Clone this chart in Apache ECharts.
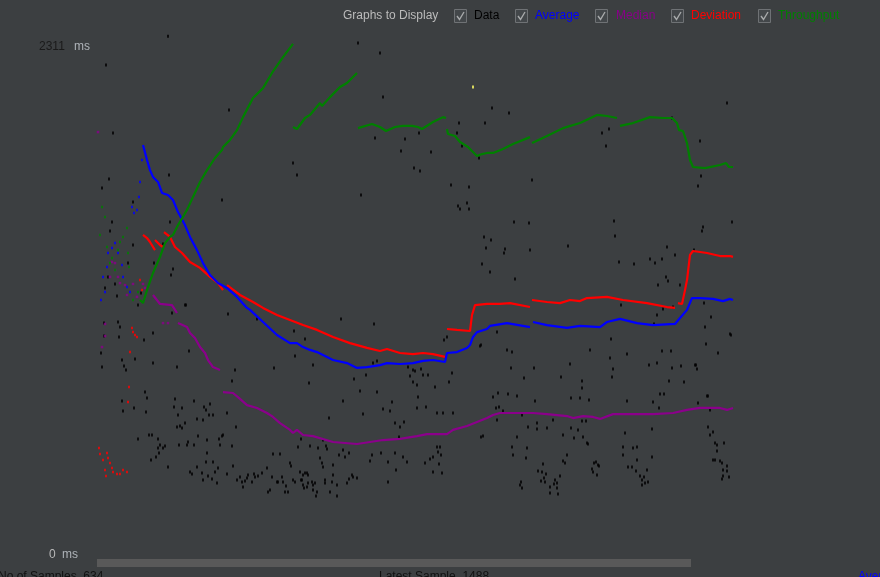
<!DOCTYPE html>
<html><head><meta charset="utf-8">
<script src="https://cdn.jsdelivr.net/npm/echarts@6/dist/echarts.min.js"></script>
<style>html,body{margin:0;padding:0;background:#3c3f41;overflow:hidden;width:880px;height:577px}#c{position:absolute;left:0;top:0;width:880px;height:577px;}</style>
</head><body><div id="c"></div><script>
// x = sample index, y = milliseconds
var yMax = 2311;
var xMax = 783;
var legendItems = ['Data', 'Average', 'Median', 'Deviation', 'Throughput'];
var bottomTexts = ['No of Samples  634', 'Latest Sample  1488', 'Average'];

var dataPoints = [
[9,2229],[16,1920],[71,2360],[132,2024],[12,1710],[5,1669],[72,1729],[36,1606],[125,1615],[15,1515],[13,1474],[36,1410],[73,1515],[66,1415],[57,1328],[76,1301],[74,1274],[31,1328],[18,1233],[8,1215],[11,1265],[20,1178],[41,1137],[44,1192],[88,1137],[196,1783],[200,1729],
[7,1055],[21,1060],[23,1037],[7,996],[22,992],[4,919],[5,855],[25,887],[27,860],[29,842],[38,892],[47,978],[56,1010],[75,1101],[89,1137],[92,928],[56,873],[80,855],[131,1096],[138,842],[135,792],[160,1074],[177,851],[197,1019],[198,905],[212,782],
[48,741],[50,714],[25,701],[37,669],[26,655],[49,651],[78,710],[77,673],[85,669],[81,637],[97,701],[100,619],[107,673],[109,660],[113,687],[112,637],[116,637],[130,646],[80,582],[83,587],[85,578],[88,600],[101,541],[106,614],[139,582],
[41,528],[52,546],[55,546],[61,528],[63,500],[66,487],[68,496],[61,487],[62,464],[59,446],[54,432],[71,400],[82,500],[90,500],[91,514],[97,500],[110,523],[110,464],[122,528],[123,500],[125,541],[126,546],[135,496],
[116,423],[121,396],[93,378],[95,368],[100,400],[105,373],[106,341],[109,423],[111,359],[115,346],[118,378],[120,328],[130,368],[136,405],[140,341],[143,355],[145,332],[146,309],[148,337],[150,350],[151,364],[155,332],[157,368],[158,355],[161,359],[165,373],[170,396],[171,287],[173,296],[175,355],[176,459],[180,332],[181,332],[183,459],[185,355],[186,332],[188,287],[189,314],[191,287],[193,419],[194,405],[196,341],[198,332],[201,491],[203,378],[204,341],[206,364],[207,305],[210,373],[211,328],
[244,1074],[277,1051],[208,983],[216,864],[232,623],[246,701],[257,801],[263,746],[266,641],[269,819],[276,873],[280,741],[280,883],[286,664],[293,655],[295,696],[298,600],[303,582],[307,605],[311,855],[313,814],[316,842],[318,837],[316,787],[320,773],[321,719],[320,669],[324,846],[326,819],[329,673],[331,819],[338,764],[340,646],[346,646],[347,978],[350,992],[352,787],[355,828],[356,646],[384,955],[396,719],[399,669],[400,614],[402,673],
[204,528],[213,496],[221,487],[226,523],[229,496],[230,482],[223,441],[225,419],[226,400],[236,409],[242,455],[246,478],[252,464],[248,446],[275,455],[273,428],[284,464],[291,423],[298,464],[302,537],[310,423],[306,446],[328,419],[333,437],[336,446],[340,491],[341,469],[342,414],[343,491],[344,455],[336,378],[345,373],[299,387],[291,332],
[208,373],[211,364],[205,341],[215,332],[218,328],[216,318],[206,318],[210,309],[216,296],[220,287],[219,268],[228,341],[228,328],[235,332],[236,364],[233,287],[240,318],[240,268],[250,328],[252,346],[255,364],[256,355],[260,350],
[261,2329],[283,2284],[286,2083],[395,2033],[362,1965],[388,1965],[278,1897],[308,1892],[322,1920],[360,1920],[365,1861],[304,1838],[334,1833],[382,1806],[317,1760],[323,1747],[354,1683],[372,1674],[264,1638],[370,1601],[361,1588],[363,1574],[372,1574],
[412,2011],[505,1920],[512,1938],[509,1861],[575,1988],[603,1883],[435,1706],[604,1724],[601,1679],[517,1519],[432,1510],[417,1515],[606,1492],[605,1474],[387,1447],[394,1433],[518,1451],[389,1397],[408,1392],[407,1374],[471,1406],[433,1387],[385,1324],[522,1333],[537,1324],[558,1328],[553,1347],[565,1347],[570,1401],[578,1365],[393,1287],[418,1256],[569,1265],[571,1246],[561,1228],[583,1228],[524,1137],[560,1092],[566,1119],[576,1128],[607,1146],[557,1051],[608,1037],[630,2056],[633,1005],[634,1001],[597,1387],[614,1083],[635,1515],
[383,951],[400,1014],[410,933],[415,923],[414,851],[427,805],[437,851],[464,810],[473,869],[474,714],[485,792],[485,760],[483,714],[493,933],[492,705],[514,983],[513,896],[516,846],[515,810],[530,914],[530,701],[552,864],[560,873],[556,696],[563,732],[567,732],[562,669],[565,928],[574,928],[575,851],[572,792],[584,860],[587,787],[599,864],[600,846],[601,691],[609,960],[611,723],[613,660],[621,919],[598,864],[610,723],
[401,737],[406,655],[411,732],[420,723],[438,701],[425,637],[431,582],[440,600],[440,573],[450,578],[456,614],[466,546],[474,578],[477,532],[481,569],[486,537],[490,509],[491,505],[489,610],[485,610],[386,541],[384,537],[420,537],[415,491],[430,487],[416,455],[429,441],[470,455],[466,428],[468,419],[446,414],
[441,382],[445,378],[449,368],[444,337],[447,350],[448,332],[463,359],[458,341],[460,328],[457,323],[460,305],[453,309],[453,282],[461,277],[424,332],[423,318],[425,305],[499,423],[497,419],[501,409],[495,391],[496,378],[500,364],[502,405],
[528,555],[526,491],[536,487],[540,491],[526,455],[540,432],[539,382],[535,400],[531,400],[543,359],[545,341],[547,355],[550,387],[551,332],[548,328],[545,318],[555,446],[555,573],
[611,582],[613,546],[616,560],[618,509],[620,500],[620,473],[616,432],[618,432],[623,428],[625,419],[630,405],[626,387],[626,359],[630,382],[632,355],[627,509],[625,346]
];
var highlightPoint = [[376,2129]];

var averageEarly = [[4,1160],[8,1196],[6,1265],[10,1310],[11,1374],[15,1397],[18,1419],[21,1374],[25,1319],[26,1265],[30,1219],[33,1196],[35,1583],[37,1556],[40,1569],[42,1629],[43,1697],[45,1797]];
var averageLine = [[
[46,1865],[50,1797],[53,1751],[56,1720],[61,1697],[65,1647],[71,1638],[76,1615],[81,1560],[88,1501],[93,1447],[100,1387],[106,1328],[113,1274],[121,1237],[130,1215],[140,1174],[150,1124],[153,1115],[166,1060],[180,1001],[193,964],[200,964],[206,946],[213,933],[220,923],[236,887],[250,873],[260,851],[270,855],[283,864],[290,873],[303,869],[316,873],[326,883],[336,887],[348,878],[350,919],[360,923],[370,942],[373,955],[376,992],[380,1014],[390,1028],[393,1042],[410,1055],[433,1037]
],[
[436,1060],[450,1046],[470,1033],[483,1042],[503,1037],[510,1060],[523,1074],[540,1055],[556,1046],[578,1051],[583,1078],[590,1115],[595,1169],[603,1169],[616,1165],[626,1155],[633,1165],[636,1160]
]];

var medianEarly = [[1,1924],[5,946],[8,996],[8,1051],[15,1333],[18,1328],[13,1265],[21,1265],[23,1237],[28,1228],[36,1233],[46,1233],[30,1183],[40,1174],[48,1215],[66,1055],[71,1055]];
var medianLine = [[
[56,1183],[63,1142],[75,1137],[80,1101]
],[
[81,1055],[90,1037],[93,1010],[98,987],[103,946],[108,919],[111,887],[116,855],[123,842]
],[
[126,741],[136,737],[143,710],[150,682],[160,669],[170,646],[176,628],[183,600],[193,569],[196,555],[200,569],[206,546],[216,541],[236,514],[260,505],[273,514],[286,523],[303,528],[320,541],[330,550],[350,550],[356,569],[370,587],[380,605],[390,623],[396,637],[403,646],[413,646],[436,646],[450,641],[470,632],[476,623],[486,632],[496,628],[503,619],[516,641],[536,641],[556,641],[576,646],[590,660],[603,669],[623,669],[630,660],[636,669]
]];

var deviationEarly = [[2,487],[3,459],[6,432],[8,387],[9,359],[10,464],[11,441],[13,419],[15,396],[16,378],[20,368],[23,368],[26,387],[30,378],[31,696],[32,764],[33,923],[35,1033],[36,1014],[38,1001],[40,992],[43,1251],[45,1205]];
var deviationLine = [[
[46,1456],[50,1442],[53,1424],[58,1387]
],[
[58,1433],[63,1410],[66,1401]
],[
[67,1469],[73,1447],[78,1401],[85,1374],[93,1333],[103,1306],[113,1265],[121,1237],[126,1205]
],[
[130,1228],[143,1183],[156,1151],[166,1124],[180,1092],[193,1069],[206,1046],[220,1024],[236,992],[253,964],[270,942],[283,928],[290,937],[303,919],[316,914],[326,919],[336,914],[348,901]
],[
[350,1028],[360,1024],[373,1019],[375,1092],[378,1137],[380,1146],[390,1142],[403,1142],[413,1146],[433,1128]
],[
[435,1160],[450,1151],[463,1146],[473,1160],[483,1155],[490,1169],[510,1174],[526,1160],[550,1146],[570,1128],[578,1124]
],[
[581,1146],[585,1142],[588,1205],[590,1251],[593,1365],[596,1383],[610,1374],[623,1360],[633,1360],[636,1356]
]];

var throughputEarly = [[5,1583],[8,1538],[3,1456],[10,1401],[13,1328],[18,1296],[21,1387],[30,1488],[26,1447],[31,1374],[32,1310],[36,1160],[41,1196],[15,1351],[23,1424]];
var throughputLine = [[
[43,1160],[46,1146],[51,1219],[56,1283],[63,1356],[68,1419],[73,1447],[76,1456],[81,1501],[86,1538],[91,1579],[96,1629],[103,1697],[110,1751],[118,1806],[125,1842],[126,1856],[133,1888],[140,1933],[146,1992],[156,2079],[166,2124],[175,2193],[186,2265],[196,2325]
],[
[196,1947],[200,1938],[208,1988],[213,2002],[223,2056],[225,2043],[233,2083],[243,2129],[250,2147],[260,2193]
],[
[261,1942],[275,1961],[283,1947],[289,1929],[298,1947],[306,1952],[315,1952],[321,1947],[325,1938],[336,1970],[346,1992],[349,1988]
],[
[350,1938],[351,1915],[358,1906],[363,1879],[371,1856],[380,1815],[385,1824],[390,1829],[396,1829],[406,1847],[416,1870],[433,1901]
],[
[435,1874],[450,1906],[466,1942],[483,1965],[500,2002],[510,1997],[520,1988]
],[
[523,1952],[536,1965],[553,1992],[566,1988],[575,1988],[580,1965],[582,1933],[586,1929],[590,1874],[593,1797],[596,1765],[608,1760],[623,1774],[629,1783],[632,1765],[636,1765]
]];

function joinSegments(segs){
  var out = [];
  segs.forEach(function(s, i){
    if (i > 0) out.push([s[0][0] - 0.5, null]);
    s.forEach(function(p){ out.push(p); });
  });
  return out;
}

var COLORS = {data:'#000000', average:'#0000ff', median:'#8b008b', deviation:'#ff0000', throughput:'#008000'};

function lineSeries(name, segs, color){
  return {name:name, type:'line', data:joinSegments(segs), showSymbol:false, symbol:'none',
    connectNulls:false, clip:false, lineStyle:{color:color, width:2.2}, itemStyle:{color:color}, z:3};
}
function dotSeries(name, pts, color, size, z){
  return {name:name, type:'scatter', data:pts, symbol:'rect', symbolSize:size, clip:false,
    itemStyle:{color:color}, z:z||2};
}

var FONT = 'Liberation Sans, Arial, sans-serif';
var graphics = [];
function txt(x, y, s, color){
  graphics.push({type:'text', left:x, top:y, silent:true,
    style:{text:s, fill:color, font:'12px ' + FONT}});
}
function checkbox(x){
  graphics.push({type:'rect', shape:{x:x+0.5, y:9.5, width:12, height:13}, silent:true,
    style:{fill:'#43474a', stroke:'#6f7275', lineWidth:1}});
  graphics.push({type:'polyline', shape:{points:[[x+3,16],[x+5.5,19.5],[x+10,12]]}, silent:true,
    style:{fill:null, stroke:'#a8aaab', lineWidth:1.4}});
}
txt(343, 10, 'Graphs to Display', '#bbbbbb');
var boxX = [454, 515, 595, 671, 758];
var labX = [474, 535, 616, 691, 778];
var labC = [COLORS.data, COLORS.average, '#880088', COLORS.deviation, COLORS.throughput];
legendItems.forEach(function(n, i){ checkbox(boxX[i]); txt(labX[i], 10, n, labC[i]); });

txt(39, 41, String(yMax), '#1a1a1a');
txt(74, 41, 'ms', '#aeb3b8');
txt(49, 549, '0', '#b9b9b9');
txt(62, 549, 'ms', '#aeb3b8');
graphics.push({type:'rect', shape:{x:97, y:559, width:594, height:8}, silent:true, style:{fill:'#595959'}});
txt(-2, 571, bottomTexts[0], '#111111');
txt(379, 571, bottomTexts[1], '#111111');
txt(858, 571, bottomTexts[2], '#0000ff');

var chart = echarts.init(document.getElementById('c'), null, {renderer:'canvas', width:880, height:577});
chart.setOption({
  backgroundColor:'#3c3f41',
  animation:false,
  grid:{left:97, right:0, top:47, bottom:22},
  xAxis:{type:'value', min:0, max:xMax, show:false},
  yAxis:{type:'value', min:0, max:yMax, show:false},
  series:[
    dotSeries('Data', dataPoints, COLORS.data, [2, 3], 1),
    dotSeries('Highlight', highlightPoint, '#ffff66', [2, 3], 1),
    dotSeries('MedianEarly', medianEarly, COLORS.median, [2.5, 2.5], 2),
    lineSeries('Median', medianLine, COLORS.median),
    dotSeries('DeviationEarly', deviationEarly, COLORS.deviation, [2, 2.5], 2),
    lineSeries('Deviation', deviationLine, COLORS.deviation),
    dotSeries('AverageEarly', averageEarly, COLORS.average, [2, 2.5], 2),
    lineSeries('Average', averageLine, COLORS.average),
    dotSeries('ThroughputEarly', throughputEarly, COLORS.throughput, [2, 2.5], 2),
    lineSeries('Throughput', throughputLine, COLORS.throughput)
  ],
  graphic: graphics
});
</script></body></html>
